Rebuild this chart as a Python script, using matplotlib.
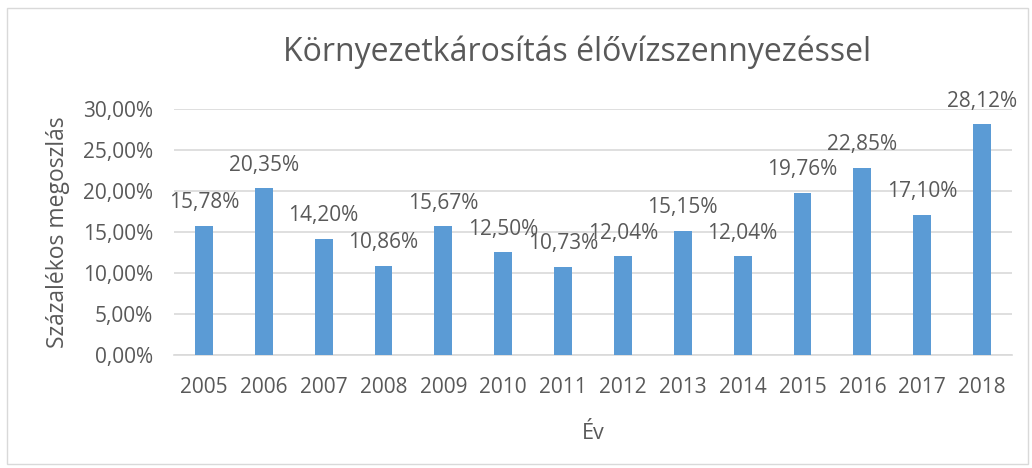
import matplotlib.pyplot as plt
from matplotlib.patches import Rectangle

plt.rcParams['font.family'] = ['Open Sans', 'DejaVu Sans']

years = ['2005', '2006', '2007', '2008', '2009', '2010', '2011',
         '2012', '2013', '2014', '2015', '2016', '2017', '2018']
values = [15.78, 20.35, 14.20, 10.86, 15.67, 12.50, 10.73,
          12.04, 15.15, 12.04, 19.76, 22.85, 17.10, 28.12]
y_ticks = [0, 5, 10, 15, 20, 25, 30]

txt = '#595959'

fig = plt.figure(figsize=(10.32, 4.68), dpi=100)
fig.patches.append(Rectangle((0.007, 0.008), 0.989, 0.975, transform=fig.transFigure,
                             fill=False, edgecolor='#d9d9d9', linewidth=1))
ax = fig.add_axes([174 / 1032, 0.2415, 838 / 1032, 0.5256])

x = list(range(len(years)))
ax.bar(x, values, width=0.3, color='#5b9bd5', zorder=3)
for xi, v in zip(x, values):
    ax.annotate(('%.2f%%' % v).replace('.', ','), (xi, v), xytext=(0, 9),
                textcoords='offset points', ha='center', va='bottom',
                fontsize=15, color=txt)

ax.set_xlim(-0.5, len(years) - 0.5)
ax.set_ylim(0, 30)
ax.set_yticks(y_ticks)
ax.set_yticklabels([('%.2f%%' % t).replace('.', ',') for t in y_ticks])
ax.set_xticks(x)
ax.set_xticklabels(years)
ax.tick_params(axis='both', length=0, labelsize=15, labelcolor=txt)
ax.tick_params(axis='x', pad=16)
ax.tick_params(axis='y', pad=15)
ax.grid(axis='y', color='#d9d9d9', linewidth=1.2, zorder=0)
for s in ['top', 'right', 'left']:
    ax.spines[s].set_visible(False)
ax.spines['bottom'].set_color('#d9d9d9')
ax.spines['bottom'].set_linewidth(1.2)

ax.set_xlabel('Év', fontsize=15.5, color=txt, labelpad=18)
ax.set_ylabel('Százalékos megoszlás', fontsize=16.5, color=txt, labelpad=9)
fig.text(577 / 1032, 1 - 52 / 468, 'Környezetkárosítás élővízszennyezéssel', ha='center', va='center',
         fontsize=23, color=txt)

fig.savefig('out.png', dpi=100)
